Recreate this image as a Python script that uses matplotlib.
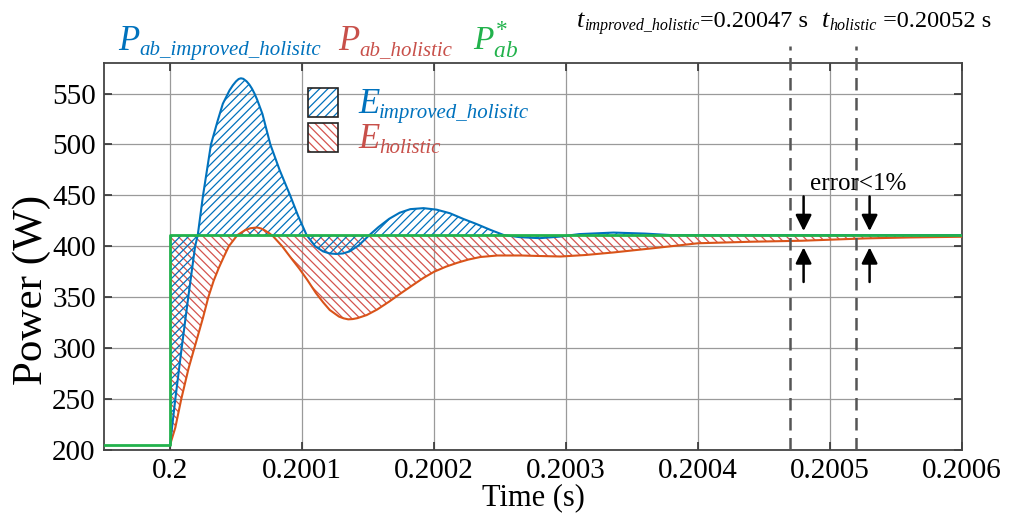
import numpy as np
import matplotlib
matplotlib.use('Agg')
import matplotlib.pyplot as plt
from matplotlib.patches import Rectangle
from matplotlib.ticker import FixedLocator

# Step response of the ab-frame power, times in microseconds after t = 0.2 s
T0 = 0.2
t_ref_us = [-50, 0, 0, 600]
p_ref = [205, 205, 411, 411]
P_SET = 411

t_improved_us = [0, 4, 8.8, 13.8, 19, 21, 25, 31, 36, 40,
                 45, 47.5, 50, 52, 53.7, 55.5, 58, 60, 62, 64,
                 66, 70, 76, 83, 91, 97, 103.5, 110, 116, 121,
                 126, 131, 136, 143, 151, 158, 166, 174, 182, 192,
                 202, 212, 222, 232, 243, 253, 265, 280, 295, 310,
                 336, 360, 380, 450, 600]
p_improved = [205, 250, 300, 350, 400, 411, 450, 500, 523, 540,
              553, 558, 562, 564.3, 565, 564.5, 562, 559, 555, 550,
              544, 530, 500, 475, 450, 430, 411, 400, 395, 393,
              392.5, 393, 395, 401, 411, 419, 427, 433, 436.5, 437.5,
              436, 432.5, 427, 422, 416, 411, 409, 408, 409.5, 412,
              413.5, 412.5, 411, 411, 411]

t_holistic_us = [0, 4, 8.5, 14, 19.5, 25, 29, 33, 37, 40.5,
                 44.5, 51, 57, 61, 66, 69, 72, 75, 78, 85,
                 92, 98, 104, 110.6, 116, 121, 128, 131.5, 135, 138.5,
                 142, 149, 157, 166, 175, 184, 192, 200, 209, 218,
                 226, 235, 248, 266, 280, 296, 315, 336, 365, 400,
                 440, 479, 527, 560, 600]
p_holistic = [205, 222, 250, 280, 305, 330, 350, 366, 379, 389,
              400, 411, 416, 417.8, 418.5, 417.5, 415.5, 413, 410, 400,
              388, 378, 367, 354, 345, 337.5, 331, 329.3, 328.3, 328.6,
              329.5, 332.5, 338, 345.7, 354, 362, 369, 375, 380, 384,
              387, 389.5, 391, 391, 390.5, 390, 391.5, 394, 398, 403,
              404.5, 405.5, 407.8, 408.7, 409.4]

settle_times = [0.20047, 0.20052]
arrow_times = [0.20048, 0.20053]
x_ticks = [0.2, 0.2001, 0.2002, 0.2003, 0.2004, 0.2005, 0.2006]
x_tick_labels = ['0.2', '0.2001', '0.2002', '0.2003', '0.2004', '0.2005', '0.2006']
y_ticks = [200, 250, 300, 350, 400, 450, 500, 550]

BLUE = '#0072BD'
ORANGE = '#D95319'
GREEN = '#22B24C'
RED_TXT = '#C8504A'
RED_HATCH = '#D4544E'

W_PX, H_PX = 1021, 514

plt.rcParams['font.family'] = ['Liberation Serif', 'DejaVu Serif']
plt.rcParams['mathtext.fontset'] = 'custom'
plt.rcParams['mathtext.rm'] = 'Liberation Serif'
plt.rcParams['mathtext.it'] = 'Liberation Serif:italic'
plt.rcParams['hatch.linewidth'] = 0.9


def to_s(us):
    return T0 + np.asarray(us) * 1e-6


fig = plt.figure(figsize=(10.21, 5.14), dpi=100)
ax = fig.add_axes([0.1019, 0.1245, 0.8403, 0.7529])
renderer = fig.canvas.get_renderer()


def put_runs(x, y, runs, color='k'):
    """Write text pieces one after another; x, y are pixels from top-left,
    each run is (text, fontsize, baseline shift in px, style)."""
    for s, size, dy, style in runs:
        t = fig.text(x / W_PX, 1 - (y + dy) / H_PX, s, fontsize=size,
                     style=style, color=color, va='baseline')
        x += t.get_window_extent(renderer).width


t_imp = to_s(t_improved_us)
t_hol = to_s(t_holistic_us)

# energy areas between each response and the set point
ax.fill_between(t_hol, p_holistic, P_SET, facecolor='none', edgecolor=RED_HATCH,
                hatch='\\\\\\\\', linewidth=0, zorder=2)
ax.fill_between(t_imp, p_improved, P_SET, facecolor='none', edgecolor=BLUE,
                hatch='////', linewidth=0, zorder=2)

ax.plot(t_hol, p_holistic, color=ORANGE, lw=1.5, zorder=3)
ax.plot(t_imp, p_improved, color=BLUE, lw=1.5, zorder=4)
ax.plot(to_s(t_ref_us), p_ref, color=GREEN, lw=2.0, zorder=5)

ax.set_xlim(0.19995, 0.2006)
ax.set_ylim(200, 580)
ax.xaxis.set_major_locator(FixedLocator(x_ticks))
ax.set_xticklabels(x_tick_labels)
ax.set_yticks(y_ticks)
ax.tick_params(direction='in', length=6, width=1.2, labelsize=21,
               top=True, right=True, color='#333333', pad=6)
ax.grid(True, color='#9a9a9a', lw=0.9)
for sp in ax.spines.values():
    sp.set_color('#444444')
    sp.set_linewidth(1.3)

ax.set_xlabel('Time (s)', fontsize=22)
ax.xaxis.set_label_coords(0.5, -0.085)
ax.set_ylabel('Power (W)', fontsize=31)
ax.yaxis.set_label_coords(-0.062, 0.413)

# settling-time markers reach above the plot into the header
for ts in settle_times:
    ax.plot([ts, ts], [200, 597], color='#555555', lw=1.8, ls=(0, (5, 3)),
            clip_on=False, zorder=6)

arrow_kw = dict(arrowstyle='-|>', color='k', lw=1.8, mutation_scale=24,
                shrinkA=0, shrinkB=0)
for ta in arrow_times:
    ax.annotate('', xy=(ta, 415), xytext=(ta, 449), arrowprops=arrow_kw, zorder=7)
    ax.annotate('', xy=(ta, 399), xytext=(ta, 365), arrowprops=arrow_kw, zorder=7)
ax.text(settle_times[1] + 0.0000016, 455, 'error<1%', fontsize=18,
        ha='center', va='baseline', zorder=7)

# hatched key for the two energy areas
keys = [(0.8605, BLUE, '////', 'improved_holisitc', BLUE, 113),
        (0.770, RED_HATCH, '\\\\\\\\', 'holistic', RED_TXT, 148)]
for y0, hc, hatch, sub, tc, base in keys:
    ax.add_patch(Rectangle((0.2378, y0), 0.035, 0.075, transform=ax.transAxes,
                           facecolor='white', edgecolor=hc, hatch=hatch,
                           lw=0, zorder=8))
    ax.add_patch(Rectangle((0.2378, y0), 0.035, 0.075, transform=ax.transAxes,
                           facecolor='none', edgecolor='#222222', lw=1.2, zorder=9))
    put_runs(358, base, [('E', 25, 0, 'italic'), (sub, 15, 5, 'italic')], color=tc)

# curve names across the top
put_runs(118, 50, [('P', 25, 0, 'italic'), ('ab_improved_holisitc', 15, 5, 'italic')],
         color=BLUE)
put_runs(338, 50, [('P', 25, 0, 'italic'), ('ab_holistic', 15, 5, 'italic')],
         color=RED_TXT)
fig.text(473 / W_PX, 1 - 50 / H_PX, r'$P^{*}_{ab}$', fontsize=24, color=GREEN,
         va='baseline')

put_runs(577, 27, [('t', 19, 0, 'italic'), ('improved_holistic', 11.5, 3, 'italic'),
                   ('=0.20047 s', 17.5, 0, 'normal')])
put_runs(822, 27, [('t', 19, 0, 'italic'), ('holistic', 11.5, 3, 'italic'),
                   (' =0.20052 s', 17.5, 0, 'normal')])

fig.savefig('out.png', dpi=100)
